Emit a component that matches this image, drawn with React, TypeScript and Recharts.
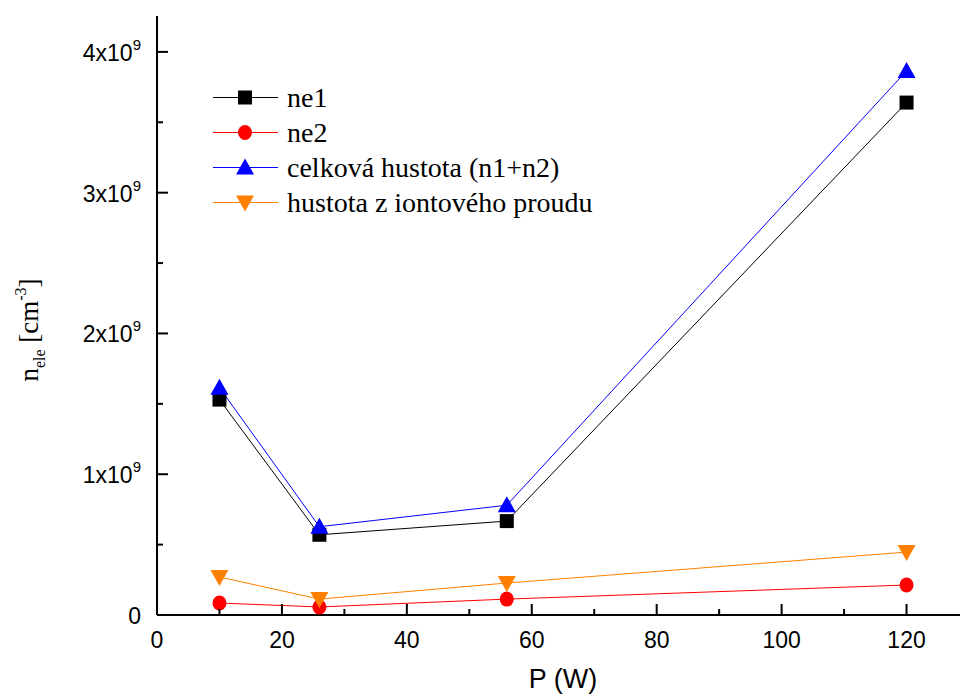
import { LineChart, Line, XAxis, YAxis } from "recharts";

const power = [10, 26, 56, 120];
const ne1 = [1.53e9, 0.57e9, 0.667e9, 3.64e9];
const ne2 = [0.085e9, 0.057e9, 0.113e9, 0.213e9];
const total = [1.615e9, 0.627e9, 0.78e9, 3.865e9];
const ionCurrent = [0.27e9, 0.113e9, 0.227e9, 0.447e9];

const xTicks = [0, 10, 20, 30, 40, 50, 60, 70, 80, 90, 100, 110, 120, 130];
const yTicks = [0, 0.5e9, 1e9, 1.5e9, 2e9, 2.5e9, 3e9, 3.5e9, 4e9];

const data = power.map((p, i) => ({
  p,
  ne1: ne1[i],
  ne2: ne2[i],
  total: total[i],
  ion: ionCurrent[i],
}));

const series = [
  { key: "ne1", name: "ne1", color: "#000000", shape: "square" },
  { key: "ne2", name: "ne2", color: "#ff0000", shape: "circle" },
  { key: "total", name: "celková hustota (n1+n2)", color: "#0000ff", shape: "up" },
  { key: "ion", name: "hustota z iontového proudu", color: "#ff8000", shape: "down" },
];

const sans = "'Liberation Sans', Arial, sans-serif";
const serif = "'Liberation Serif', 'Times New Roman', serif";

function Marker({ shape, cx, cy, color }: any) {
  if (shape === "square") {
    return <rect x={cx - 7} y={cy - 7} width={14} height={14} fill={color} />;
  }
  if (shape === "circle") {
    return <ellipse cx={cx} cy={cy} rx={7} ry={7.5} fill={color} />;
  }
  if (shape === "up") {
    return <polygon points={`${cx},${cy - 9} ${cx - 9},${cy + 7} ${cx + 9},${cy + 7}`} fill={color} />;
  }
  return <polygon points={`${cx},${cy + 9} ${cx - 9},${cy - 7} ${cx + 9},${cy - 7}`} fill={color} />;
}

const BottomTick = ({ x, y, payload }: any) => {
  const v = payload.value;
  const major = v % 20 === 0;
  return (
    <g>
      <line x1={x} x2={x} y1={y} y2={y - (major ? 11 : 6)} stroke="#000" strokeWidth={2} />
      {major && (
        <text x={x} y={y + 33} textAnchor="middle" fontSize={23} fontFamily={sans} fill="#000">
          {v}
        </text>
      )}
    </g>
  );
};

const TopTick = ({ x, y, payload }: any) => {
  const major = payload.value % 20 === 0;
  return <line x1={x} x2={x} y1={y} y2={y + (major ? 11 : 6)} stroke="#000" strokeWidth={2} />;
};

const LeftTick = ({ x, y, payload }: any) => {
  const v = payload.value;
  const n = Math.round((v / 1e9) * 10) / 10;
  const major = Number.isInteger(n);
  return (
    <g>
      <line x1={x} x2={x + (major ? 11 : 6)} y1={y} y2={y} stroke="#000" strokeWidth={2} />
      {major && (
        <text x={x - 16} y={y + 9} textAnchor="end" fontSize={23} fontFamily={sans} fill="#000">
          {n === 0 ? (
            "0"
          ) : (
            <>
              <tspan>{`${n}x10`}</tspan>
              <tspan dy={-11} fontSize={15}>9</tspan>
            </>
          )}
        </text>
      )}
    </g>
  );
};

const RightTick = ({ x, y, payload }: any) => {
  const n = Math.round((payload.value / 1e9) * 10) / 10;
  const major = Number.isInteger(n);
  return <line x1={x} x2={x - (major ? 11 : 6)} y1={y} y2={y} stroke="#000" strokeWidth={2} />;
};

const LegendBox = () => (
  <div
    style={{
      position: "absolute",
      left: 210,
      top: 80,
      fontFamily: serif,
      fontSize: 28,
      color: "#000",
    }}
  >
    {series.map((s) => (
      <div key={s.key} style={{ display: "flex", alignItems: "center", height: 35 }}>
        <svg width={77} height={35}>
          <line x1={3} x2={68} y1={17.5} y2={17.5} stroke={s.color} strokeWidth={1} />
          <Marker shape={s.shape} cx={35} cy={17.5} color={s.color} />
        </svg>
        <span style={{ lineHeight: "35px", whiteSpace: "nowrap" }}>{s.name}</span>
      </div>
    ))}
  </div>
);

export default function App() {
  return (
    <div style={{ position: "absolute", left: 0, top: 0, width: 960, height: 700, overflow: "hidden" }}>
      <LineChart width={972} height={700} data={data} margin={{ top: 16, right: 0, bottom: 0, left: 0 }}>
        <XAxis
          dataKey="p"
          type="number"
          domain={[0, 130]}
          ticks={xTicks}
          interval={0}
          tickSize={0}
          tickMargin={0}
          tickLine={false}
          tick={BottomTick}
          height={85}
          axisLine={{ stroke: "#000", strokeWidth: 2 }}
          label={{
            content: () => (
              <text x={563} y={688} textAnchor="middle" fontSize={27} fontFamily={sans} fill="#000">
                P (W)
              </text>
            ),
          }}
        />
        <XAxis
          xAxisId="top"
          orientation="top"
          type="number"
          domain={[0, 130]}
          ticks={xTicks}
          interval={0}
          tickSize={0}
          tickMargin={0}
          tickLine={false}
          tick={TopTick}
          height={0}
          axisLine={{ stroke: "#000", strokeWidth: 2 }}
        />
        <YAxis
          type="number"
          domain={[0, 4.255e9]}
          ticks={yTicks}
          interval={0}
          width={157}
          tickSize={0}
          tickMargin={0}
          tickLine={false}
          tick={LeftTick}
          axisLine={{ stroke: "#000", strokeWidth: 2 }}
          label={{
            content: () => (
              <text
                transform="translate(38,330) rotate(-90)"
                textAnchor="middle"
                fontSize={27}
                fontFamily={serif}
                fill="#000"
              >
                <tspan>n</tspan>
                <tspan fontSize={16} dy={7}>ele</tspan>
                <tspan dy={-7}> [cm</tspan>
                <tspan fontSize={16} dy={-12}>-3</tspan>
                <tspan dy={12}>]</tspan>
              </text>
            ),
          }}
        />
        <YAxis
          yAxisId="right"
          orientation="right"
          type="number"
          domain={[0, 4.255e9]}
          ticks={yTicks}
          interval={0}
          width={3}
          tickSize={0}
          tickMargin={0}
          tickLine={false}
          tick={RightTick}
          axisLine={{ stroke: "#000", strokeWidth: 2 }}
        />
        {series.map((s) => (
          <Line
            key={s.key}
            dataKey={s.key}
            name={s.name}
            stroke={s.color}
            strokeWidth={1}
            isAnimationActive={false}
            dot={(props: any) => (
              <Marker key={`${s.key}-${props.index}`} shape={s.shape} cx={props.cx} cy={props.cy} color={s.color} />
            )}
          />
        ))}
      </LineChart>
      <LegendBox />
    </div>
  );
}
